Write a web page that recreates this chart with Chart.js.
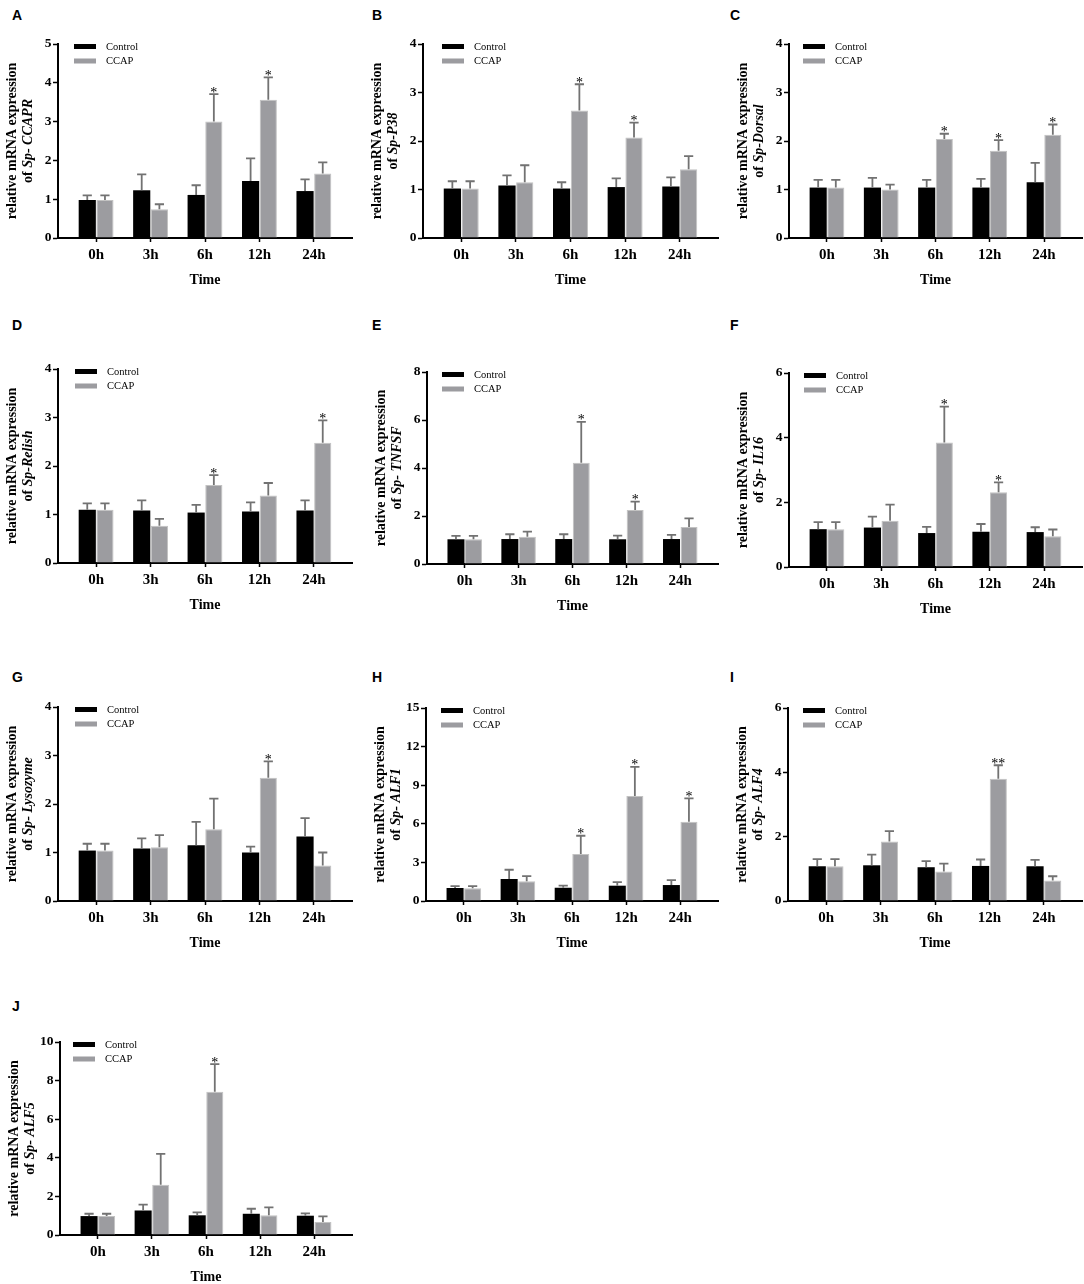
<!DOCTYPE html>
<html>
<head>
<meta charset="utf-8">
<script src="https://cdn.jsdelivr.net/npm/chart.js@4.4.1/dist/chart.umd.min.js"></script>
<style>
html,body{margin:0;padding:0;background:#fff;}
#page{position:relative;width:1084px;height:1284px;overflow:hidden;background:#fff;}
#page canvas{position:absolute;}
.letter{position:absolute;font:bold 14px "Liberation Sans",Arial,sans-serif;line-height:14px;color:#000;}
</style>
</head>
<body>
<div id="page"></div>
<script>
// ---------------- DATA ----------------
const timeLabels = ['0h', '3h', '6h', '12h', '24h'];
const seriesNames = ['Control', 'CCAP'];

// A: Sp-CCAPR
const ccaprTicks = [0, 1, 2, 3, 4, 5];
const ccaprControl = [0.98, 1.23, 1.11, 1.47, 1.21];
const ccaprControlSD = [0.12, 0.41, 0.25, 0.58, 0.30];
const ccaprCCAP = [0.98, 0.74, 3.00, 3.56, 1.66];
const ccaprCCAPSD = [0.12, 0.13, 0.71, 0.58, 0.29];
const ccaprSig = ['', '', '*', '*', ''];

// B: Sp-P38
const p38Ticks = [0, 1, 2, 3, 4];
const p38Control = [1.02, 1.08, 1.02, 1.05, 1.06];
const p38ControlSD = [0.15, 0.21, 0.13, 0.18, 0.19];
const p38CCAP = [1.02, 1.15, 2.63, 2.07, 1.42];
const p38CCAPSD = [0.15, 0.35, 0.54, 0.31, 0.27];
const p38Sig = ['', '', '*', '*', ''];

// C: Sp-Dorsal
const dorsalTicks = [0, 1, 2, 3, 4];
const dorsalControl = [1.04, 1.04, 1.04, 1.04, 1.15];
const dorsalControlSD = [0.16, 0.20, 0.16, 0.18, 0.40];
const dorsalCCAP = [1.04, 1.00, 2.04, 1.80, 2.13];
const dorsalCCAPSD = [0.16, 0.10, 0.11, 0.22, 0.21];
const dorsalSig = ['', '', '*', '*', '*'];

// D: Sp-Relish
const relishTicks = [0, 1, 2, 3, 4];
const relishControl = [1.10, 1.08, 1.04, 1.06, 1.08];
const relishControlSD = [0.13, 0.21, 0.16, 0.19, 0.21];
const relishCCAP = [1.10, 0.77, 1.61, 1.39, 2.48];
const relishCCAPSD = [0.13, 0.14, 0.20, 0.26, 0.46];
const relishSig = ['', '', '*', '', '*'];

// E: Sp-TNFSF
const tnfsfTicks = [0, 2, 4, 6, 8];
const tnfsfControl = [1.03, 1.04, 1.04, 1.03, 1.04];
const tnfsfControlSD = [0.14, 0.20, 0.20, 0.15, 0.17];
const tnfsfCCAP = [1.03, 1.14, 4.22, 2.25, 1.54];
const tnfsfCCAPSD = [0.14, 0.21, 1.70, 0.35, 0.36];
const tnfsfSig = ['', '', '*', '*', ''];

// F: Sp-IL16
const il16Ticks = [0, 2, 4, 6];
const il16Control = [1.17, 1.22, 1.05, 1.09, 1.08];
const il16ControlSD = [0.22, 0.34, 0.19, 0.24, 0.15];
const il16CCAP = [1.17, 1.43, 3.85, 2.31, 0.95];
const il16CCAPSD = [0.22, 0.50, 1.11, 0.31, 0.21];
const il16Sig = ['', '', '*', '*', ''];

// G: Sp-Lysozyme
const lysoTicks = [0, 1, 2, 3, 4];
const lysoControl = [1.04, 1.08, 1.15, 1.00, 1.33];
const lysoControlSD = [0.14, 0.21, 0.48, 0.12, 0.38];
const lysoCCAP = [1.04, 1.11, 1.48, 2.54, 0.73];
const lysoCCAPSD = [0.14, 0.25, 0.63, 0.34, 0.27];
const lysoSig = ['', '', '', '*', ''];

// H: Sp-ALF1
const alf1Ticks = [0, 3, 6, 9, 12, 15];
const alf1Control = [1.01, 1.71, 1.03, 1.19, 1.24];
const alf1ControlSD = [0.15, 0.72, 0.17, 0.28, 0.39];
const alf1CCAP = [1.00, 1.53, 3.65, 8.17, 6.15];
const alf1CCAPSD = [0.16, 0.41, 1.42, 2.25, 1.82];
const alf1Sig = ['', '', '*', '*', '*'];

// I: Sp-ALF4
const alf4Ticks = [0, 2, 4, 6];
const alf4Control = [1.08, 1.11, 1.05, 1.09, 1.08];
const alf4ControlSD = [0.22, 0.33, 0.19, 0.20, 0.20];
const alf4CCAP = [1.08, 1.85, 0.92, 3.80, 0.64];
const alf4CCAPSD = [0.22, 0.32, 0.24, 0.42, 0.13];
const alf4Sig = ['', '', '', '**', ''];

// J: Sp-ALF5
const alf5Ticks = [0, 2, 4, 6, 8, 10];
const alf5Control = [0.98, 1.27, 1.02, 1.10, 1.00];
const alf5ControlSD = [0.12, 0.30, 0.15, 0.26, 0.12];
const alf5CCAP = [0.98, 2.60, 7.42, 1.02, 0.67];
const alf5CCAPSD = [0.12, 1.60, 1.43, 0.41, 0.29];
const alf5Sig = ['', '', '*', '', ''];

const panelLetters = ['A', 'B', 'C', 'D', 'E', 'F', 'G', 'H', 'I', 'J'];
const geneNames = ['Sp- CCAPR', 'Sp-P38', 'Sp-Dorsal', 'Sp-Relish', 'Sp- TNFSF', 'Sp- IL16', 'Sp- Lysozyme', 'Sp- ALF1', 'Sp- ALF4', 'Sp- ALF5'];
const panelData = [
  [ccaprTicks, ccaprControl, ccaprControlSD, ccaprCCAP, ccaprCCAPSD, ccaprSig],
  [p38Ticks, p38Control, p38ControlSD, p38CCAP, p38CCAPSD, p38Sig],
  [dorsalTicks, dorsalControl, dorsalControlSD, dorsalCCAP, dorsalCCAPSD, dorsalSig],
  [relishTicks, relishControl, relishControlSD, relishCCAP, relishCCAPSD, relishSig],
  [tnfsfTicks, tnfsfControl, tnfsfControlSD, tnfsfCCAP, tnfsfCCAPSD, tnfsfSig],
  [il16Ticks, il16Control, il16ControlSD, il16CCAP, il16CCAPSD, il16Sig],
  [lysoTicks, lysoControl, lysoControlSD, lysoCCAP, lysoCCAPSD, lysoSig],
  [alf1Ticks, alf1Control, alf1ControlSD, alf1CCAP, alf1CCAPSD, alf1Sig],
  [alf4Ticks, alf4Control, alf4ControlSD, alf4CCAP, alf4CCAPSD, alf4Sig],
  [alf5Ticks, alf5Control, alf5ControlSD, alf5CCAP, alf5CCAPSD, alf5Sig]
];

// ---------------- LAYOUT (positions only) ----------------
const geom = [
  {axisL: 58,  top: 44,  zero: 238, right: 352,  legDx: 16, lx: 12,  ly: 8},
  {axisL: 423, top: 44,  zero: 238, right: 718,  legDx: 19, lx: 372, ly: 8},
  {axisL: 789, top: 44,  zero: 238, right: 1082, legDx: 14, lx: 730, ly: 8},
  {axisL: 58,  top: 369, zero: 563, right: 352,  legDx: 17, lx: 12,  ly: 318},
  {axisL: 427, top: 372, zero: 564, right: 718,  legDx: 15, lx: 372, ly: 318},
  {axisL: 789, top: 373, zero: 567, right: 1082, legDx: 15, lx: 730, ly: 318},
  {axisL: 58,  top: 707, zero: 901, right: 352,  legDx: 17, lx: 12,  ly: 670},
  {axisL: 426, top: 708, zero: 901, right: 718,  legDx: 15, lx: 372, ly: 670},
  {axisL: 788, top: 708, zero: 901, right: 1082, legDx: 15, lx: 730, ly: 670},
  {axisL: 60,  top: 1042, zero: 1235, right: 352, legDx: 13, lx: 12, ly: 999}
];

const SERIF = '"Liberation Serif", "Times New Roman", serif';
const CTRL_COLOR = '#000000';
const CCAP_COLOR = '#9c9ca0';
const CCAP_BORDER = '#c2c2c2';
const ERR_COLOR = '#727272';
const FS = 13.5;
const TITLE_FS = 14;

const page = document.getElementById('page');

function makePlugin(g, gene) {
  return {
    id: 'extras',
    afterDatasetsDraw(chart) {
      const ctx = chart.ctx, ys = chart.scales.y;
      chart.data.datasets.forEach((ds, di) => {
        const meta = chart.getDatasetMeta(di);
        meta.data.forEach((bar, i) => {
          const v = ds.data[i].y, e = ds.sd[i];
          const yt = ys.getPixelForValue(v + e);
          ctx.save();
          ctx.strokeStyle = ERR_COLOR;
          ctx.lineWidth = 1.8;
          ctx.beginPath();
          ctx.moveTo(bar.x, bar.y);
          ctx.lineTo(bar.x, yt);
          ctx.moveTo(bar.x - 4.6, yt);
          ctx.lineTo(bar.x + 4.6, yt);
          ctx.stroke();
          if (ds.sig && ds.sig[i]) {
            ctx.fillStyle = '#000';
            ctx.font = '14px ' + SERIF;
            ctx.textAlign = 'center';
            ctx.textBaseline = 'alphabetic';
            ctx.fillText(ds.sig[i], bar.x, yt + 2.5);
          }
          ctx.restore();
        });
      });
    },
    afterDraw(chart) {
      const ctx = chart.ctx, a = chart.chartArea;
      // legend
      ctx.save();
      const colors = [CTRL_COLOR, CCAP_COLOR];
      const dys = [2.5, 17];
      seriesNames.forEach((name, k) => {
        const sx = a.left + g.legDx, sy = a.top + dys[k];
        ctx.fillStyle = colors[k];
        ctx.fillRect(sx, sy - 2.5, 22, 5);
        ctx.fillStyle = '#000';
        ctx.font = '10.5px ' + SERIF;
        ctx.textAlign = 'left';
        ctx.textBaseline = 'middle';
        ctx.fillText(name, sx + 32, sy + 0.5);
      });
      ctx.restore();
      // y-axis title (two lines, gene name in italics)
      ctx.save();
      ctx.translate(a.left - 46, (a.top + a.bottom) / 2);
      ctx.rotate(-Math.PI / 2);
      ctx.fillStyle = '#000';
      ctx.textBaseline = 'middle';
      ctx.textAlign = 'center';
      const fB = 'bold ' + TITLE_FS + 'px ' + SERIF;
      const fBI = 'italic bold ' + TITLE_FS + 'px ' + SERIF;
      ctx.font = fB;
      ctx.fillText('relative mRNA expression', 0, 0);
      const p1 = 'of ';
      ctx.font = fB; const w1 = ctx.measureText(p1).width;
      ctx.font = fBI; const w2 = ctx.measureText(gene).width;
      let x0 = -(w1 + w2) / 2;
      ctx.textAlign = 'left';
      ctx.font = fB; ctx.fillText(p1, x0, 16);
      ctx.font = fBI; ctx.fillText(gene, x0 + w1, 16);
      ctx.restore();
    }
  };
}

panelData.forEach((pd, idx) => {
  const [ticks, ctrl, ctrlSD, ccap, ccapSD, sig] = pd;
  const g = geom[idx];
  const cLeft = g.axisL - 58, cTop = g.top - 40;
  const cW = g.right - cLeft + 2, cH = g.zero - cTop + 56;

  const letter = document.createElement('div');
  letter.className = 'letter';
  letter.textContent = panelLetters[idx];
  letter.style.left = g.lx + 'px';
  letter.style.top = g.ly + 'px';
  page.appendChild(letter);

  const canvas = document.createElement('canvas');
  canvas.width = cW; canvas.height = cH;
  canvas.style.left = cLeft + 'px'; canvas.style.top = cTop + 'px';
  canvas.style.width = cW + 'px'; canvas.style.height = cH + 'px';
  page.appendChild(canvas);

  const tickFont = {family: SERIF, weight: 'bold', size: FS};
  const xTickFont = {family: SERIF, weight: 'bold', size: 15};
  new Chart(canvas, {
    type: 'bar',
    data: {
      datasets: [
        {label: seriesNames[0], data: ctrl.map((v, i) => ({x: i, y: v})), sd: ctrlSD,
         backgroundColor: CTRL_COLOR, borderWidth: 0},
        {label: seriesNames[1], data: ccap.map((v, i) => ({x: i, y: v})), sd: ccapSD, sig: sig,
         backgroundColor: CCAP_COLOR, borderColor: CCAP_BORDER, borderWidth: 1}
      ]
    },
    options: {
      responsive: false,
      animation: false,
      devicePixelRatio: 1,
      layout: {padding: {top: 40, right: 2, left: 0, bottom: 0}},
      plugins: {legend: {display: false}, tooltip: {enabled: false}},
      datasets: {bar: {categoryPercentage: 0.65, barPercentage: 0.97}},
      scales: {
        x: {
          type: 'linear', min: -0.7, max: 4.7, offset: false,
          afterBuildTicks: ax => { ax.ticks = timeLabels.map((_, i) => ({value: i})); },
          afterFit: ax => { ax.height = 56; },
          grid: {display: true, offset: false, drawOnChartArea: false, drawTicks: true, tickLength: 4,
                 color: '#000', tickColor: '#000', tickWidth: 1.5},
          border: {display: true, color: '#000', width: 2},
          ticks: {autoSkip: false, maxRotation: 0, minRotation: 0, padding: 4, color: '#000', font: xTickFont,
                  callback: v => (timeLabels[v] !== undefined ? timeLabels[v] : '')},
          title: {display: true, text: 'Time', color: '#000', font: {family: SERIF, weight: 'bold', size: 14}, padding: {top: 0, bottom: 5}}
        },
        y: {
          min: ticks[0], max: ticks[ticks.length - 1],
          afterBuildTicks: ax => { ax.ticks = ticks.map(v => ({value: v})); },
          afterFit: ax => { ax.width = 58; },
          grid: {display: true, drawOnChartArea: false, drawTicks: true, tickLength: 5,
                 color: '#000', tickColor: '#000', tickWidth: 1.5},
          border: {display: true, color: '#000', width: 2},
          ticks: {padding: 1.5, color: '#000', font: tickFont, callback: v => String(v)}
        }
      }
    },
    plugins: [makePlugin(g, geneNames[idx])]
  });
});
</script>
</body>
</html>
